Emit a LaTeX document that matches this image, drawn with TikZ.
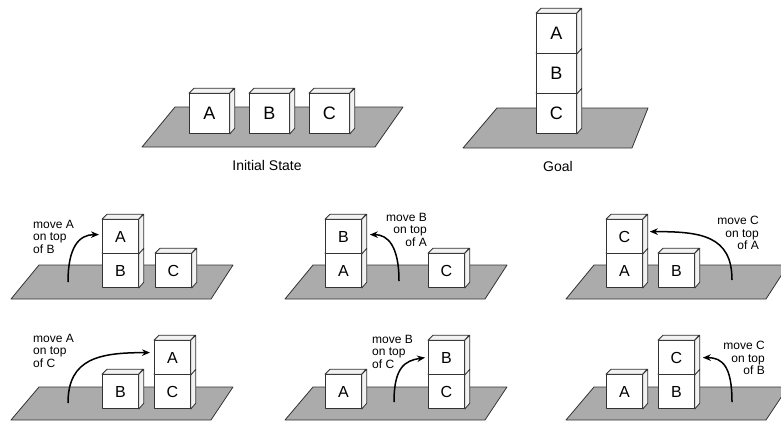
\documentclass[tikz,border=0pt]{standalone}
\usepackage{fontspec}
\setmainfont{Liberation Sans}
\usetikzlibrary{arrows.meta}

\definecolor{edgecol}{HTML}{333333}
\definecolor{tablecol}{HTML}{ABABAB}
\definecolor{sidecol}{HTML}{F2F2F2}

\tikzset{
  edgeline/.style={draw=edgecol, line width=0.8pt, line join=round},
  table/.style={edgeline, fill=tablecol},
  frontface/.style={edgeline, fill=white, inner sep=0pt, anchor=south west},
  sideface/.style={edgeline, fill=sidecol},
  bigletter/.style={font=\fontsize{18}{18}\selectfont},
  smallletter/.style={font=\fontsize{16}{16}\selectfont},
  caption/.style={font=\fontsize{14}{14}\selectfont, inner sep=0pt},
  note/.style={font=\fontsize{12}{12.5}\selectfont, inner sep=0pt},
  movearrow/.style={line width=1.5pt, black, -{Stealth[length=8pt,width=6.5pt]}},
}

% #1 name, #2 x, #3 bottom y, #4 width, #5 height, #6 depth, #7 letter
\newcommand\blockbox[7]{%
  \node[frontface, minimum width=#4pt, minimum height=#5pt] (#1) at (#2,#3) {#7};
  \draw[sideface] (#1.north west) -- ++(#6,-#6) -- ++(#4,0) -- (#1.north east) -- cycle;
  \draw[sideface] (#1.north east) -- ++(#6,-#6) -- ++(0,#5) -- (#1.south east) -- cycle;
}
\newcommand\bigblock[4]{\blockbox{#1}{#2}{#3}{40}{40}{5}{#4}}
\newcommand\smallblock[4]{\blockbox{#1}{#2}{#3}{36}{34}{5}{#4}}

\begin{document}
\begin{tikzpicture}[x=1pt, y=-1pt]
  \useasboundingbox (0,0) rectangle (781,424);
  \clip (0,0) rectangle (781,424);

  % ---------- initial state ----------
  \draw[table] (142,147) -- (375,147) -- (403,107) -- (175,107) -- cycle;
  \begin{scope}[every node/.append style={bigletter}]
    \bigblock{iA}{189}{134}{A}
    \bigblock{iB}{249}{134}{B}
    \bigblock{iC}{309}{134}{C}
  \end{scope}
  \node[caption] (initcap) at (267,165) {Initial State};

  % ---------- goal ----------
  \draw[table] (463,148) -- (632,148) -- (648,108) -- (497,108) -- cycle;
  \begin{scope}[every node/.append style={bigletter}]
    \bigblock{gC}{536}{134}{C}
    \bigblock{gB}{536}{94}{B}
    \bigblock{gA}{536}{54}{A}
  \end{scope}
  \node[caption] (goalcap) at (558,166) {Goal};

  % ---------- tables of the six moves ----------
  \draw[table] (11,299) -- (211,299) -- (233,265) -- (39,265) -- cycle;
  \draw[table] (285,299) -- (485,299) -- (507,265) -- (313,265) -- cycle;
  \draw[table] (566,299) -- (766,299) -- (788,265) -- (594,265) -- cycle;
  \draw[table] (11,420) -- (211,420) -- (233,387) -- (39,387) -- cycle;
  \draw[table] (285,420) -- (485,420) -- (507,387) -- (313,387) -- cycle;
  \draw[table] (566,420) -- (766,420) -- (788,387) -- (594,387) -- cycle;

  \begin{scope}[every node/.append style={smallletter}]
    % move A onto B
    \smallblock{p1B}{102}{288}{B}
    \smallblock{p1A}{102}{254}{A}
    \smallblock{p1C}{155}{288}{C}
    % move B onto A
    \smallblock{p2A}{325}{288}{A}
    \smallblock{p2B}{325}{254}{B}
    \smallblock{p2C}{428}{288}{C}
    % move C onto A
    \smallblock{p3A}{606}{288}{A}
    \smallblock{p3C}{606}{254}{C}
    \smallblock{p3B}{658}{288}{B}
    % move A onto C
    \smallblock{p4B}{102}{409}{B}
    \smallblock{p4C}{154}{409}{C}
    \smallblock{p4A}{154}{375}{A}
    % move B onto C
    \smallblock{p5A}{325}{409}{A}
    \smallblock{p5C}{428}{409}{C}
    \smallblock{p5B}{428}{375}{B}
    % move C onto B
    \smallblock{p6A}{606}{409}{A}
    \smallblock{p6B}{658}{409}{B}
    \smallblock{p6C}{658}{375}{C}
  \end{scope}

  % ---------- move labels ----------
  \node[note, anchor=north west, align=left]  (n1) at (33,220)  {move A\\on top\\of B};
  \node[note, anchor=north east, align=right] (n2) at (427,213) {move B\\on top\\of A};
  \node[note, anchor=north east, align=right] (n3) at (759,216) {move C\\on top\\of A};
  \node[note, anchor=north west, align=left]  (n4) at (33,334)  {move A\\on top\\of C};
  \node[note, anchor=north west, align=left]  (n5) at (372,335) {move B\\on top\\of C};
  \node[note, anchor=north east, align=right] (n6) at (765,341) {move C\\on top\\of B};

  % ---------- move arrows ----------
  \coordinate (s1) at (68,282);
  \coordinate (s2) at (399,281);
  \coordinate (s3) at (732,280);
  \coordinate (s4) at (68,403);
  \coordinate (s5) at (394,402);
  \coordinate (s6) at (732,402);

  \draw[movearrow] (s1) .. controls +(0,-35) and +(-20,0) .. ([xshift=-3pt,yshift=2pt]p1A.west);
  \draw[movearrow] (s2) .. controls +(0,-35) and +(18,0) .. ([xshift=8pt,yshift=2pt]p2B.east);
  \draw[movearrow] (s3) .. controls +(0,-45) and +(50,0) .. ([xshift=7pt,yshift=5pt]p3C.east);
  \draw[movearrow] (s4) .. controls +(0,-45) and +(-50,0) .. ([xshift=-4pt,yshift=5pt]p4A.west);
  \draw[movearrow] (s5) .. controls +(0,-35) and +(-20,3) .. ([xshift=-3pt]p5B.west);
  \draw[movearrow] (s6) .. controls +(0,-35) and +(20,0) .. ([xshift=8pt]p6C.east);
\end{tikzpicture}
\end{document}
